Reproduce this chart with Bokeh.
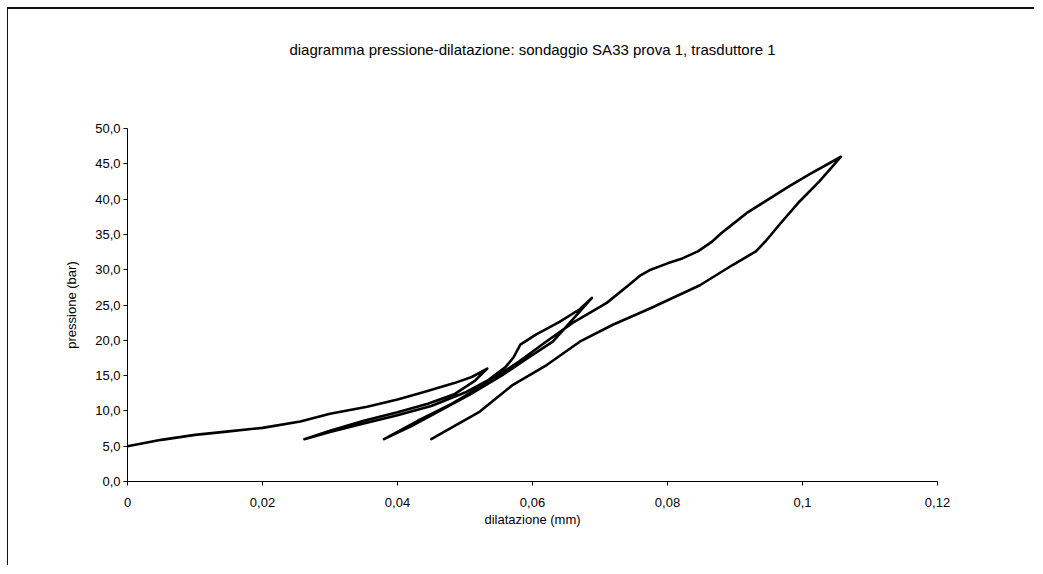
from bokeh.plotting import figure
from bokeh.models import FixedTicker, Title
from bokeh.embed import file_html
from bokeh.resources import INLINE

# ---- data ----
title_text = "diagramma pressione-dilatazione: sondaggio SA33 prova 1, trasduttore 1"
x_label = "dilatazione (mm)"
y_label = "pressione (bar)"

x_ticks = [0, 0.02, 0.04, 0.06, 0.08, 0.1, 0.12]
x_tick_labels = ["0", "0,02", "0,04", "0,06", "0,08", "0,1", "0,12"]
y_ticks = [0, 5, 10, 15, 20, 25, 30, 35, 40, 45, 50]
y_tick_labels = ["0,0", "5,0", "10,0", "15,0", "20,0", "25,0", "30,0", "35,0", "40,0", "45,0", "50,0"]

# cycle 1 loading
load1_x = [0.0, 0.005, 0.010, 0.015, 0.020, 0.0256, 0.030, 0.0355, 0.0400, 0.0433, 0.0483, 0.0510, 0.0533]
load1_y = [5.0, 5.9, 6.6, 7.1, 7.6, 8.5, 9.6, 10.6, 11.6, 12.5, 13.9, 14.8, 16.0]
# cycle 1 unloading
unload1_x = [0.0533, 0.0515, 0.0485, 0.0445, 0.0400, 0.0350, 0.0300, 0.0262]
unload1_y = [16.0, 14.3, 12.4, 11.0, 9.8, 8.6, 7.2, 6.0]
# cycle 2 loading
load2_x = [0.0262, 0.030, 0.035, 0.040, 0.045, 0.050, 0.0535, 0.0560, 0.0572, 0.0582, 0.0605, 0.0640, 0.0670, 0.0688]
load2_y = [6.0, 7.0, 8.2, 9.4, 10.7, 12.6, 14.4, 16.2, 17.6, 19.4, 20.8, 22.6, 24.4, 26.0]
# cycle 2 unloading
unload2_x = [0.0688, 0.0660, 0.0630, 0.0590, 0.0556, 0.0507, 0.0455, 0.0420, 0.0380]
unload2_y = [26.0, 23.0, 19.8, 17.3, 15.1, 12.3, 9.6, 7.8, 6.0]
# cycle 3 loading
load3_x = [0.0380, 0.0430, 0.0480, 0.0530, 0.0580, 0.0620, 0.0660, 0.0710, 0.0745, 0.0760, 0.0775, 0.0800, 0.0822, 0.0845, 0.0865, 0.0880, 0.0892, 0.0917, 0.0950, 0.0980, 0.1010, 0.1057]
load3_y = [6.0, 8.6, 11.0, 13.8, 17.0, 19.8, 22.5, 25.3, 28.0, 29.2, 30.0, 30.9, 31.6, 32.6, 33.9, 35.2, 36.1, 38.0, 40.0, 41.8, 43.5, 46.0]
# cycle 3 unloading
unload3_x = [0.1057, 0.1025, 0.0996, 0.0966, 0.0945, 0.0931, 0.0897, 0.0848, 0.0774, 0.0719, 0.0670, 0.0621, 0.0571, 0.0522, 0.0450]
unload3_y = [46.0, 42.5, 39.7, 36.4, 34.0, 32.6, 30.7, 27.8, 24.5, 22.2, 19.8, 16.5, 13.7, 9.9, 6.0]

dilatazione = load1_x + unload1_x + load2_x + unload2_x + load3_x + unload3_x
pressione = load1_y + unload1_y + load2_y + unload2_y + load3_y + unload3_y

FONT = "Liberation Sans"

W, H = 1027, 558
FL, FR, FT, FB = 119, 929, 119, 472   # frame edges inside the figure
p = figure(width=W, height=H, output_backend="svg", toolbar_location=None,
           x_range=(0, 0.12), y_range=(0, 50),
           min_border_left=FL, min_border_right=W - FR,
           min_border_top=FT, min_border_bottom=H - FB)
p.styles = {"border-top": "2px solid #111", "border-left": "1px solid #111",
            "margin-left": "7px", "margin-top": "7px"}
p.background_fill_color = "white"
p.border_fill_color = "white"
p.outline_line_color = None
p.xgrid.visible = False
p.ygrid.visible = False

# empty spacer panel between the title and the plot area
p.add_layout(Title(text=" ", text_font=FONT, text_font_size="14px", standoff=48), "above")

p.title.text = title_text
p.title.align = "center"
p.title.text_font = FONT
p.title.text_font_size = "15px"
p.title.text_font_style = "normal"
p.title.text_color = "black"
p.title.standoff = 10

p.line(dilatazione, pressione, line_color="black", line_width=2.6, line_join="round", line_cap="round")

for ax in (p.xaxis[0], p.yaxis[0]):
    ax.axis_line_color = "black"
    ax.axis_line_width = 1
    ax.major_tick_line_color = "black"
    ax.major_tick_in = 0
    ax.major_tick_out = 4
    ax.minor_tick_line_color = None
    ax.major_label_text_font = FONT
    ax.major_label_text_font_size = "13px"
    ax.major_label_text_color = "black"
    ax.axis_label_text_font = FONT
    ax.axis_label_text_font_size = "13px"
    ax.axis_label_text_font_style = "normal"
    ax.axis_label_text_color = "black"

p.xaxis[0].ticker = FixedTicker(ticks=x_ticks)
p.xaxis[0].major_label_overrides = {t: l for t, l in zip(x_ticks, x_tick_labels)}
p.xaxis[0].major_label_standoff = 12
p.xaxis[0].axis_label = x_label
p.xaxis[0].axis_label_standoff = 2

p.yaxis[0].ticker = FixedTicker(ticks=y_ticks)
p.yaxis[0].major_label_overrides = {t: l for t, l in zip(y_ticks, y_tick_labels)}
p.yaxis[0].major_label_standoff = 3
p.yaxis[0].axis_label = y_label
p.yaxis[0].axis_label_standoff = 13

open("out.html", "w").write(file_html(p, INLINE))
